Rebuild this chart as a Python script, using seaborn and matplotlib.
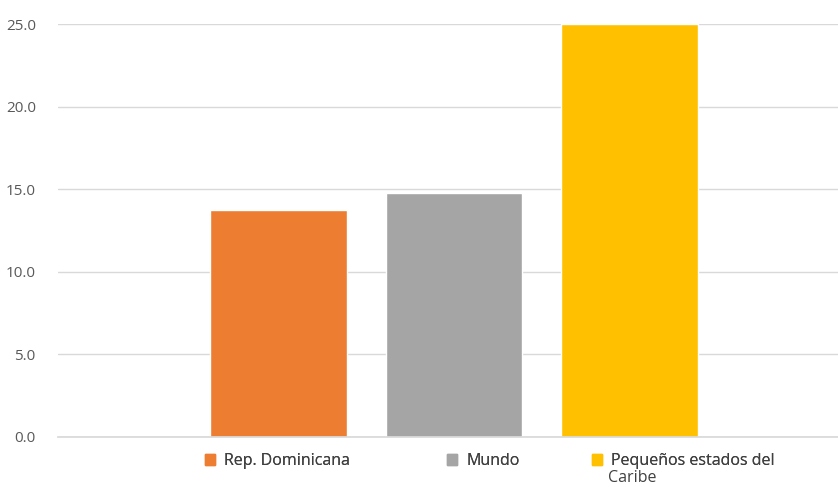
import matplotlib
matplotlib.use("Agg")
import matplotlib.pyplot as plt
import matplotlib.patches as mpatches
import seaborn as sns
import pandas as pd

categories = ["Rep. Dominicana", "Mundo", "Pequeños estados del Caribe"]
legend_labels = ["Rep. Dominicana", "Mundo", "Pequeños estados del"]
legend_extra = "Caribe"
values = [13.75, 14.8, 25.0]
colors = ["#ED7D31", "#A5A5A5", "#FFC000"]
yticks = [0, 5, 10, 15, 20, 25]

sns.set_theme(style="white")
plt.rcParams["font.family"] = ["Open Sans", "DejaVu Sans"]

df = pd.DataFrame({"cat": categories, "val": values})

W, H = 838, 487
fig = plt.figure(figsize=(W / 100, H / 100), dpi=100)
ax = fig.add_axes([58 / W, 1 - 437 / H, 1 - 58 / W, (437 - 24) / H])

sns.barplot(data=df, x="cat", y="val", hue="cat", palette=colors, order=categories,
            hue_order=categories, width=0.78, legend=False, ax=ax, saturation=1)

ax.set_xlim(-1.256, 3.188)
ax.set_ylim(0, 25)
ax.set_yticks(yticks)
ax.set_yticklabels([f"{t:.1f}" for t in yticks], color="#595959", fontsize=11)
ax.set_xticks([])
ax.set_xlabel("")
ax.set_ylabel("")
ax.yaxis.grid(True, color="#D9D9D9", linewidth=1)
ax.set_axisbelow(True)
for s in ["top", "right", "left"]:
    ax.spines[s].set_visible(False)
ax.spines["bottom"].set_color("#D9D9D9")
ax.tick_params(axis="y", length=0, pad=16)

legend_x = [205, 447, 592]
for lbl, col, lx in zip(legend_labels, colors, legend_x):
    h = mpatches.Patch(color=col)
    leg = fig.legend(handles=[h], labels=[lbl], loc="upper left",
                     bbox_to_anchor=(lx / W, 1 - 453 / H), frameon=False,
                     handlelength=0.65, handleheight=0.65, handletextpad=0.55,
                     borderpad=0, borderaxespad=0, fontsize=11.5,
                     labelcolor="#404040")
    fig.add_artist(leg)

fig.text(608 / W, 1 - 478 / H, legend_extra, fontsize=11.5, color="#404040",
         ha="left", va="center")

fig.savefig("out.png", dpi=100)
